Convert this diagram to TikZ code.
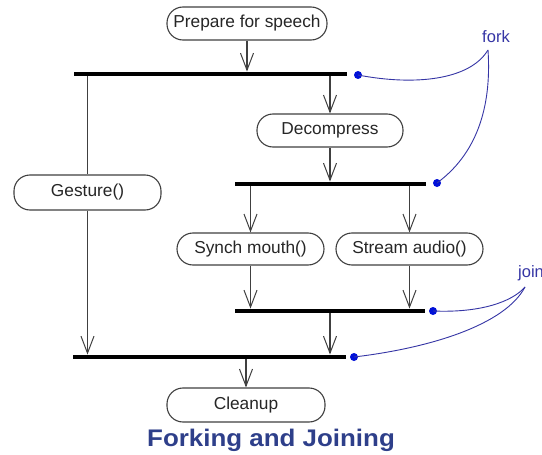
\documentclass[tikz,border=0pt]{standalone}
\usepackage{fontspec}
\setmainfont{Liberation Sans}
\usetikzlibrary{arrows.meta}
\definecolor{edgegray}{HTML}{404040}
\definecolor{notecol}{HTML}{3535A5}
\definecolor{dotblue}{HTML}{0010D8}
\definecolor{titleblue}{HTML}{2E3F8A}
\begin{document}
\begin{tikzpicture}[x=1pt,y=-1pt,
  act/.style={draw=edgegray, line width=1.1pt, rounded corners=16pt, inner sep=0pt,
    font=\fontsize{17.3}{20}\selectfont, text=black!85},
  bar/.style={fill=black, draw=none, inner sep=0pt, minimum height=4.5pt},
  conn/.style={draw=edgegray, line width=1.1pt},
  arr/.style={conn, -{Straight Barb[length=17pt, width=13pt, line width=1pt]}},
  note/.style={draw=notecol, line width=0.9pt},
  ndot/.style={circle, fill=dotblue, inner sep=0pt, minimum size=8pt},
  notetext/.style={text=notecol, font=\fontsize{16.5}{19}\selectfont, inner sep=0pt}
]
\useasboundingbox (0,0) rectangle (542,455);
\fill[white] (0,0) rectangle (542,455);

% activities
\node[act, minimum width=160pt, minimum height=33pt] (prep) at (247,23.5) {Prepare for speech};
\node[act, minimum width=146pt, minimum height=33pt] (decomp) at (330,130.5) {Decompress};
\node[act, minimum width=147pt, minimum height=35pt] (gesture) at (87.5,192.5) {Gesture()};
\node[act, minimum width=147pt, minimum height=32pt] (synch) at (250.5,249) {Synch mouth()};
\node[act, minimum width=147pt, minimum height=32pt] (stream) at (409.5,249) {Stream audio()};
\node[act, minimum width=158pt, minimum height=34pt] (cleanup) at (246,405) {Cleanup};

% bars
\node[bar, minimum width=273pt] (bar1) at (210.5,74) {};
\node[bar, minimum width=191pt] (bar2) at (330.5,184) {};
\node[bar, minimum width=190pt] (bar3) at (330,311) {};
\node[bar, minimum width=273pt] (bar4) at (209.5,357) {};

% connectors
\draw[arr] (prep.south) -- (prep.south |- bar1.north);
\draw[arr] (decomp.north |- bar1.south) -- (decomp.north);
\draw[conn] (gesture.north |- bar1.south) -- (gesture.north);
\draw[arr] (gesture.south) -- (gesture.south |- bar4.north);
\draw[arr] (decomp.south) -- (decomp.south |- bar2.north);
\draw[arr] (synch.north |- bar2.south) -- (synch.north);
\draw[arr] (stream.north |- bar2.south) -- (stream.north);
\draw[arr] (synch.south) -- (synch.south |- bar3.north);
\draw[arr] (stream.south) -- (stream.south |- bar3.north);
\draw[arr] (bar3.south) -- (bar3.south |- bar4.north);
\draw[arr] (cleanup.north |- bar4.south) -- (cleanup.north);

% notes
\node[ndot] (d1) at (358,75) {};
\node[ndot] (d2) at (437,183) {};
\node[ndot] (d3) at (433,311) {};
\node[ndot] (d4) at (354,357) {};
\node[notetext] (fork) at (496,37) {fork};
\begin{scope}
\clip (0,0) rectangle (542,455);
\node[notetext, anchor=west] (join) at (518,273) {join};
\end{scope}
\coordinate (forkpt) at (488,50);
\coordinate (joinpt) at (525,287);
\draw[note] (d1.center) .. controls (415,86) and (470,80) .. (forkpt);
\draw[note] (d2.center) .. controls (475,155) and (492,110) .. (forkpt);
\draw[note] (d3.center) .. controls (480,313) and (512,302) .. (joinpt);
\draw[note] (d4.center) .. controls (430,348) and (505,325) .. (joinpt);

% title
\node[text=titleblue, font=\fontsize{24}{28}\selectfont\bfseries, xscale=1.08] (title) at (271,440) {Forking and Joining};
\end{tikzpicture}
\end{document}
